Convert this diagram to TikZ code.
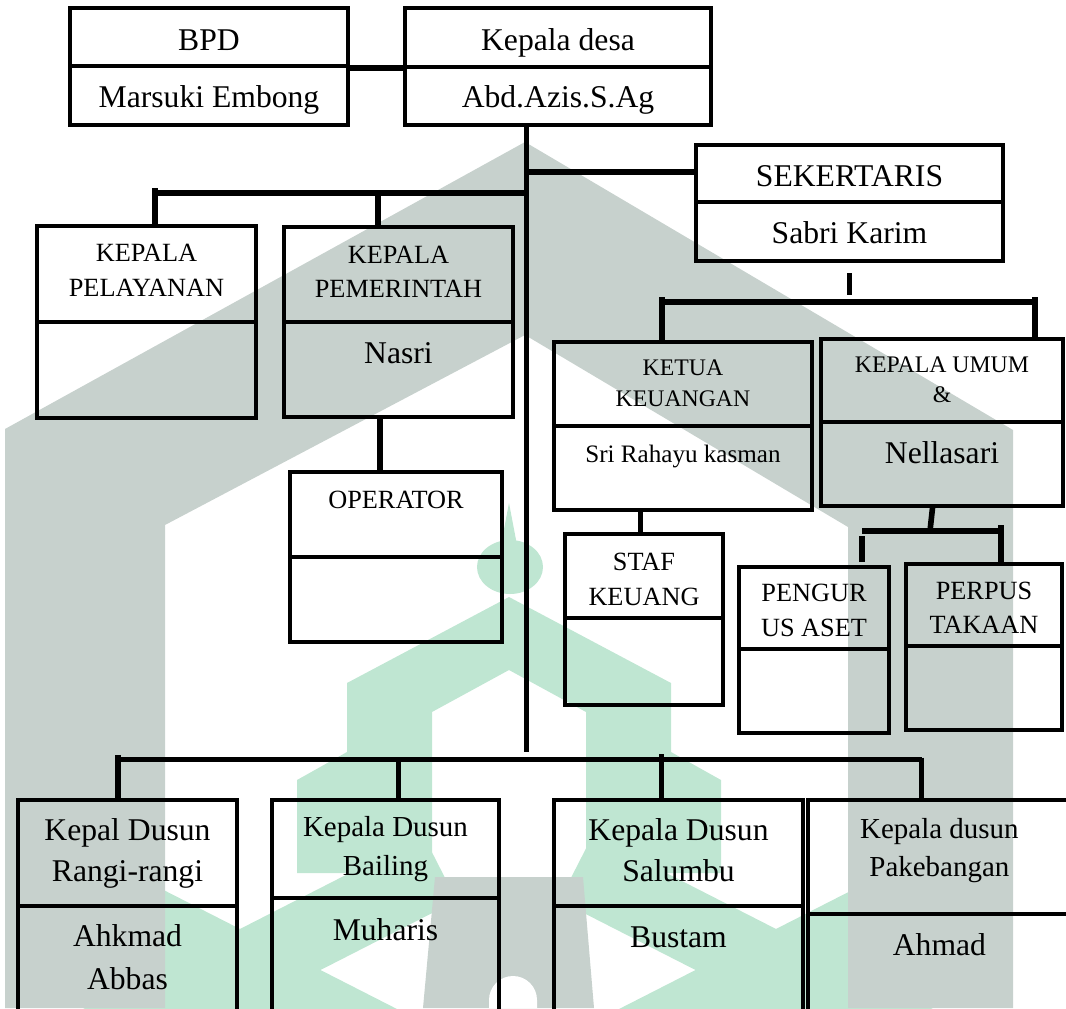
\documentclass[tikz,border=0pt]{standalone}
\usepackage{fontspec}
\setmainfont{Liberation Serif}
\usepackage{xcolor}
\usetikzlibrary{positioning,calc}
\definecolor{wmGray}{HTML}{C7D1CD}
\definecolor{wmGreen}{HTML}{BFE6D2}
\tikzstyle{boxn}=[rectangle, draw, line width=2.8pt, inner sep=0pt]
\tikzstyle{divl}=[line width=2.8pt]
\tikzstyle{conn}=[line width=4pt]
\tikzstyle{tL}=[inner sep=0pt, anchor=base, font=\fontsize{22.5}{27}\selectfont]
\tikzstyle{tM}=[inner sep=0pt, anchor=base, font=\fontsize{20.6}{25}\selectfont]
\tikzstyle{tS}=[inner sep=0pt, anchor=base, font=\fontsize{18.7}{22}\selectfont]
\tikzstyle{tR}=[inner sep=0pt, anchor=base, font=\fontsize{17.85}{21}\selectfont]
\tikzstyle{tXS}=[inner sep=0pt, anchor=base, font=\fontsize{16.9}{20}\selectfont]
% box with a line between the post and the name
\newcommand{\orgbox}[6]{
  \node[boxn, minimum width={(#4-#2)*0.025cm}, minimum height={(#5-#3)*0.025cm}] (#1) at ({(#2+#4)/2},{(#3+#5)/2}) {};
  \draw[divl] (#1.west |- 0,#6) -- (#1.east |- 0,#6);
}

\begin{document}
\begin{tikzpicture}[x=0.025cm, y=-0.025cm]
        \useasboundingbox (0,0) rectangle (1066,1008);
        \clip (0,0) rectangle (1066,1008);
        % watermark
        \fill[wmGreen] (509,503) -- (517,545) -- (501,545) -- cycle;
        \fill[wmGreen] (510,567) ellipse [x radius=0.825cm, y radius=0.675cm];
        \fill[wmGreen] (509,597) -- (347,683) -- (347,752) -- (297,780) -- (297,873) -- (432,873) -- (432,712) -- (509,670) -- (586,712) -- (586,873) -- (721,873) -- (721,780) -- (671,752) -- (671,683) -- cycle;
        \draw[wmGreen, line width=52pt] (440,868) -- (40,1072);
        \draw[wmGreen, line width=52pt] (40,868) -- (440,1072);
        \draw[wmGreen, line width=52pt] (576,868) -- (976,1072);
        \draw[wmGreen, line width=52pt] (976,868) -- (576,1072);
        \fill[wmGray] (5,429) -- (525,142) -- (1013,430) -- (1013,1008) -- (848,1008) -- (848,527) -- (525,335) -- (165,525) -- (165,1008) -- (5,1008) -- cycle;
        \fill[wmGray] (435,877) -- (583,877) -- (594,1008) -- (423,1008) -- cycle;
        \fill[white] (489,1008) -- (489,1000) arc[start angle=180, end angle=0, radius=0.6cm] -- (537,1008) -- cycle;
        % boxes
        \orgbox{bpd}{70}{8}{348}{125}{66}
        \orgbox{kades}{405}{8}{711}{125}{67}
        \orgbox{sek}{696}{145}{1003}{261}{202}
        \orgbox{pel}{37}{226}{256}{418}{322}
        \orgbox{pem}{284}{227}{513}{417}{322}
        \orgbox{opr}{290}{472}{502}{642}{557}
        \orgbox{ket}{554}{342}{812}{510}{426}
        \orgbox{umum}{821}{339}{1063}{506}{422}
        \orgbox{staf}{565}{534}{723}{705}{618}
        \orgbox{peng}{739}{567}{889}{733}{649}
        \orgbox{perp}{906}{564}{1062}{730}{646}
        \orgbox{d1}{18}{800}{237}{1030}{906}
        \orgbox{d2}{272}{800}{499}{1030}{898}
        \orgbox{d3}{554}{800}{803}{1030}{906}
        \orgbox{d4}{808}{800}{1100}{1030}{914}
        % texts
        \node[tL] (t1) at (bpd.north |- 0,50) {BPD};
        \node[tL] (t2) at (bpd.north |- 0,107) {Marsuki Embong};
        \node[tL] (t3) at (kades.north |- 0,50) {Kepala desa};
        \node[tL] (t4) at (kades.north |- 0,107) {Abd.Azis.S.Ag};
        \node[tL] (t5) at (sek.north |- 0,186) {SEKERTARIS};
        \node[tL] (t6) at (sek.north |- 0,243) {Sabri Karim};
        \node[tS] (t7) at (pel.north |- 0,261.7) {KEPALA};
        \node[tS] (t8) at (pel.north |- 0,296.7) {PELAYANAN};
        \node[tS] (t9) at (pem.north |- 0,263.3) {KEPALA};
        \node[tS] (t10) at (pem.north |- 0,297.7) {PEMERINTAH};
        \node[tL] (t11) at (pem.north |- 0,363.3) {Nasri};
        \node[tS] (t12) at (opr.north |- 0,508.3) {OPERATOR};
        \node[tXS] (t13) at (ket.north |- 0,375) {KETUA};
        \node[tXS] (t14) at (ket.north |- 0,406.7) {KEUANGAN};
        \node[tR] (t15) at (ket.north |- 0,462.7) {Sri Rahayu kasman};
        \node[tXS] (t16) at (umum.north |- 0,372.7) {KEPALA UMUM};
        \node[tXS] (t17) at (umum.north |- 0,402.7) {\&};
        \node[tL] (t18) at (umum.north |- 0,463.3) {Nellasari};
        \node[tS] (t19) at (staf.north |- 0,570) {STAF};
        \node[tS] (t20) at (staf.north |- 0,605) {KEUANG};
        \node[tS] (t21) at (peng.north |- 0,601.7) {PENGUR};
        \node[tS] (t22) at (peng.north |- 0,636.7) {US ASET};
        \node[tS] (t23) at (perp.north |- 0,599.3) {PERPUS};
        \node[tS] (t24) at (perp.north |- 0,633.3) {TAKAAN};
        \node[tL] (t25) at (d1.north |- 0,840) {Kepal Dusun};
        \node[tL] (t26) at (d1.north |- 0,881.7) {Rangi-rangi};
        \node[tL] (t27) at (d1.north |- 0,946.7) {Ahkmad};
        \node[tL] (t28) at (d1.north |- 0,989.3) {Abbas};
        \node[tM] (t29) at (d2.north |- 0,836.7) {Kepala Dusun};
        \node[tM] (t30) at (d2.north |- 0,875) {Bailing};
        \node[tL] (t31) at (d2.north |- 0,940) {Muharis};
        \node[tL] (t32) at (d3.north |- 0,840) {Kepala Dusun};
        \node[tL] (t33) at (d3.north |- 0,881.7) {Salumbu};
        \node[tL] (t34) at (d3.north |- 0,947.7) {Bustam};
        \node[tM] (t35) at (939.4,838.3) {Kepala dusun};
        \node[tM] (t36) at (939.4,876.7) {Pakebangan};
        \node[tL] (t37) at (939.4,955) {Ahmad};
        % lines
        \coordinate (trunk) at (kades.south -| 526.5,0);
        \coordinate (trunkend) at (526.5,752);
        \draw[conn] (trunk) -- (trunkend);
        \draw[conn] (bpd.east |- 0,68) -- (kades.west |- 0,68);
        \draw[conn] (trunk |- 0,172) -- (sek.west |- 0,172);
        \draw[conn] (trunk |- 0,193) -- (155,193);
        \draw[conn] (155,188) -- (pel.north -| 155,0);
        \draw[conn] (378,193) -- (pem.north -| 378,0);
        \draw[conn] (pem.south -| 380,0) -- (opr.north -| 380,0);
        \draw[conn] (sek.south |- 0,273) -- (sek.south |- 0,295);
        \draw[conn] (662,302) -- (1035,302);
        \draw[conn] (662,297) -- (ket.north -| 662,0);
        \draw[conn] (1035,297) -- (umum.north -| 1035,0);
        \draw[conn] (ket.south -| 640.6,0) -- (staf.north -| 640.6,0);
        \draw[conn] (umum.south -| 932.5,0) -- (930,531);
        \draw[conn] (862,531) -- (1001,531);
        \draw[conn] (1001,525) -- (perp.north -| 1001,0);
        \draw[conn] (862,536) -- (862,562);
        \draw[conn] (118,759.5) -- (921.5,759.5);
        \draw[conn] (118,755) -- (d1.north -| 118,0);
        \draw[conn] (398.5,759.5) -- (d2.north -| 398.5,0);
        \draw[conn] (661.6,754) -- (d3.north -| 661.6,0);
        \draw[conn] (921.5,757.5) -- (d4.north -| 921.5,0);
      \end{tikzpicture}
\end{document}
